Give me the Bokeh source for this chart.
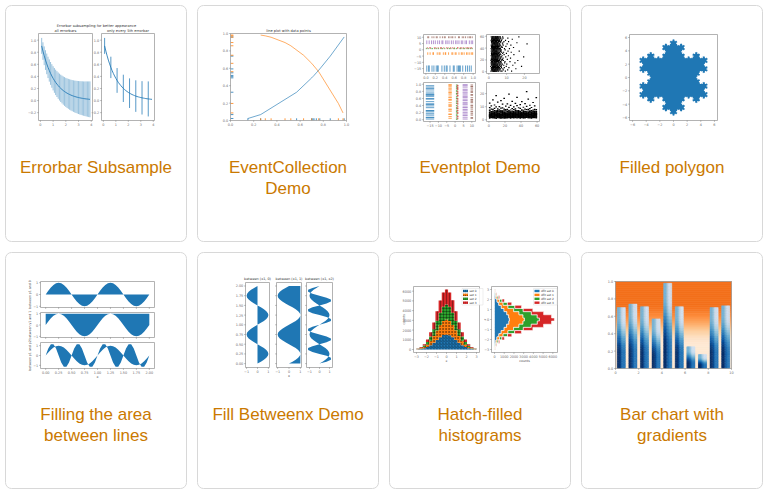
import numpy as np
from bokeh.plotting import figure
from bokeh.models import Range1d
from bokeh.embed import file_html
from bokeh.resources import INLINE
from bokeh.core.properties import value

# ======================= DATA =======================
card_titles = [["Errorbar Subsample"], ["EventCollection", "Demo"], ["Eventplot Demo"], ["Filled polygon"],
               ["Filling the area", "between lines"], ["Fill Betweenx Demo"], ["Hatch-filled", "histograms"],
               ["Bar chart with", "gradients"]]

# 1. Errorbar subsample
eb_x = [0.1, 0.2, 0.3, 0.4, 0.5, 0.6, 0.7, 0.8, 0.9, 1.0, 1.1, 1.2, 1.3, 1.4, 1.5, 1.6, 1.7, 1.8, 1.9, 2.0,
        2.1, 2.2, 2.3, 2.4, 2.5, 2.6, 2.7, 2.8, 2.9, 3.0, 3.1, 3.2, 3.3, 3.4, 3.5, 3.6, 3.7, 3.8, 3.9]
eb_y = [0.905, 0.819, 0.741, 0.670, 0.607, 0.549, 0.497, 0.449, 0.407, 0.368, 0.333, 0.301, 0.273, 0.247,
        0.223, 0.202, 0.183, 0.165, 0.150, 0.135, 0.122, 0.111, 0.100, 0.091, 0.082, 0.074, 0.067, 0.061,
        0.055, 0.050, 0.045, 0.041, 0.037, 0.033, 0.030, 0.027, 0.025, 0.022, 0.020]
eb_err = [0.132, 0.145, 0.155, 0.163, 0.171, 0.177, 0.184, 0.189, 0.195, 0.200, 0.205, 0.210, 0.214, 0.218,
          0.222, 0.226, 0.230, 0.234, 0.238, 0.241, 0.245, 0.248, 0.252, 0.255, 0.258, 0.261, 0.264, 0.267,
          0.270, 0.273, 0.276, 0.279, 0.282, 0.284, 0.287, 0.290, 0.292, 0.295, 0.297]
eb_title = "Errorbar subsampling for better appearance"
eb_subtitles = ["all errorbars", "only every 5th errorbar"]
eb_xticks = [0, 1, 2, 3, 4]
eb_xlabels = ["0", "1", "2", "3", "4"]
eb_yticks = [-0.2, 0.0, 0.2, 0.4, 0.6, 0.8, 1.0]
eb_ylabels = ["\u22120.2", "0.0", "0.2", "0.4", "0.6", "0.8", "1.0"]

# 2. EventCollection
ec_x1 = [0.15, 0.26, 0.57, 0.70, 0.71, 0.72, 0.74, 0.77, 0.86, 0.98]
ec_y1 = [0.023, 0.068, 0.325, 0.490, 0.504, 0.518, 0.548, 0.593, 0.740, 0.960]
ec_x2 = [0.26, 0.30, 0.35, 0.47, 0.52, 0.63, 0.70, 0.76, 0.93, 0.97]
ec_y2 = [0.982, 0.973, 0.957, 0.896, 0.859, 0.750, 0.657, 0.561, 0.196, 0.087]
ec_title = "line plot with data points"
ec_ticks = [0.0, 0.2, 0.4, 0.6, 0.8, 1.0]
ec_labels = ["0.0", "0.2", "0.4", "0.6", "0.8", "1.0"]

# 3. Eventplot
ep_offsets = [-15, -3, 1, 1.5, 6, 10]
ep_lengths = [5, 2, 1, 1, 3, 1.5]
ep_rows = [
    [0.02, 0.06, 0.07, 0.13, 0.17, 0.22, 0.25, 0.26, 0.34, 0.39, 0.43, 0.45, 0.51, 0.58, 0.60, 0.66, 0.69, 0.71, 0.73, 0.78, 0.84, 0.88, 0.92, 0.96],
    [0.04, 0.09, 0.15, 0.16, 0.24, 0.28, 0.30, 0.37, 0.41, 0.42, 0.48, 0.55, 0.57, 0.62, 0.64, 0.70, 0.75, 0.77, 0.81, 0.86, 0.89, 0.93, 0.97, 0.99],
    [0.01, 0.05, 0.11, 0.14, 0.19, 0.23, 0.27, 0.32, 0.35, 0.40, 0.46, 0.50, 0.53, 0.59, 0.61, 0.65, 0.72, 0.74, 0.79, 0.82, 0.87, 0.90, 0.94, 0.98],
    [0.03, 0.08, 0.10, 0.18, 0.21, 0.26, 0.31, 0.33, 0.38, 0.44, 0.47, 0.52, 0.56, 0.60, 0.67, 0.68, 0.73, 0.76, 0.80, 0.85, 0.88, 0.91, 0.95, 0.97],
    [0.02, 0.07, 0.12, 0.16, 0.20, 0.25, 0.29, 0.34, 0.36, 0.42, 0.45, 0.49, 0.54, 0.58, 0.63, 0.66, 0.70, 0.75, 0.78, 0.83, 0.86, 0.92, 0.96, 0.99],
    [0.04, 0.06, 0.13, 0.17, 0.22, 0.24, 0.30, 0.35, 0.39, 0.41, 0.48, 0.51, 0.55, 0.57, 0.62, 0.69, 0.71, 0.77, 0.80, 0.84, 0.89, 0.93, 0.94, 0.98],
]
ep_gamma = [
    [3.2, 5.1, 2.4, 6.8, 1.9, 4.4, 3.7, 9.3, 2.8, 5.6, 4.1, 1.2, 7.4, 3.3, 2.6, 12.8],
    [4.6, 2.1, 3.9, 5.8, 1.6, 6.3, 2.9, 4.8, 8.1, 3.4, 1.8, 5.2, 2.3, 10.6, 4.0, 3.1],
    [2.7, 6.1, 4.3, 1.4, 3.6, 7.9, 5.0, 2.2, 4.7, 3.0, 6.6, 1.9, 15.2, 3.8, 5.4, 2.5],
    [5.3, 3.5, 1.7, 4.9, 2.6, 8.7, 3.2, 6.0, 4.2, 2.0, 11.3, 3.9, 5.7, 1.5, 4.5, 7.1],
    [3.8, 2.3, 6.4, 4.0, 1.1, 5.5, 3.1, 9.8, 2.7, 4.6, 6.9, 3.6, 2.1, 5.0, 18.4, 3.3],
    [4.4, 1.9, 3.0, 7.2, 5.1, 2.5, 4.8, 3.4, 6.2, 1.6, 3.9, 8.4, 2.8, 5.9, 4.1, 13.5],
    [2.2, 4.9, 6.7, 3.3, 1.8, 5.2, 4.0, 2.9, 7.6, 3.7, 1.4, 10.1, 4.5, 2.6, 6.0, 3.1],
    [5.8, 3.0, 2.4, 4.6, 8.9, 1.7, 3.5, 6.3, 2.1, 4.2, 5.4, 3.8, 14.7, 2.9, 1.3, 7.0],
    [3.6, 6.5, 1.5, 4.1, 2.8, 5.7, 9.1, 3.2, 4.9, 2.0, 6.8, 3.4, 1.9, 5.3, 11.9, 4.3],
    [4.7, 2.6, 5.0, 3.1, 7.3, 1.2, 4.4, 2.3, 6.1, 3.9, 8.2, 5.5, 2.7, 3.6, 1.8, 16.3],
    [2.9, 4.2, 3.7, 6.9, 1.6, 5.1, 2.4, 4.8, 3.3, 10.4, 2.0, 5.9, 4.5, 7.7, 3.0, 1.4],
    [6.2, 3.4, 1.9, 4.6, 2.7, 8.0, 3.9, 5.3, 2.2, 4.1, 6.6, 1.5, 3.5, 12.2, 5.0, 2.8],
    [3.1, 5.6, 4.3, 2.5, 7.1, 3.8, 1.7, 4.9, 9.5, 2.9, 5.2, 3.6, 6.4, 2.1, 4.0, 19.6],
    [4.9, 2.0, 6.0, 3.5, 1.3, 4.7, 5.8, 2.6, 3.2, 7.5, 4.4, 2.3, 11.0, 3.7, 5.5, 1.8],
    [2.4, 3.9, 5.2, 1.8, 4.5, 6.7, 3.0, 8.6, 2.7, 4.1, 3.3, 5.9, 1.6, 14.1, 4.8, 2.2],
    [5.5, 4.1, 2.9, 3.6, 6.3, 1.9, 4.7, 3.2, 7.8, 2.4, 5.1, 9.9, 3.8, 1.5, 4.3, 2.6],
    [3.3, 1.6, 4.8, 5.9, 2.5, 3.7, 8.3, 4.2, 1.9, 6.1, 2.8, 4.6, 3.1, 12.6, 5.4, 7.2],
    [4.2, 6.8, 3.0, 2.1, 5.0, 4.5, 1.4, 3.8, 6.6, 2.9, 10.8, 3.5, 5.7, 2.3, 4.1, 17.1],
    [2.6, 3.5, 5.6, 4.0, 1.7, 7.0, 3.3, 2.4, 4.9, 5.8, 3.0, 1.8, 6.4, 4.4, 9.2, 2.7],
    [5.1, 2.8, 4.4, 1.3, 3.9, 6.0, 2.2, 5.3, 3.6, 8.8, 4.7, 2.5, 3.2, 11.6, 1.9, 6.5],
    [3.9, 4.6, 2.3, 5.7, 3.1, 1.6, 6.9, 4.0, 2.7, 5.2, 3.4, 7.6, 4.8, 2.0, 13.9, 3.7],
    [4.5, 3.2, 6.2, 2.6, 5.4, 3.8, 1.5, 4.9, 7.3, 2.1, 4.3, 5.6, 3.0, 9.6, 2.4, 1.7],
    [2.1, 5.3, 3.6, 4.7, 1.9, 6.5, 4.1, 3.3, 2.5, 8.1, 5.0, 3.9, 1.4, 4.6, 12.4, 6.0],
    [6.0, 2.7, 4.0, 3.4, 5.1, 2.2, 7.7, 1.8, 4.4, 3.1, 5.8, 2.9, 10.3, 4.8, 3.6, 21.5],
    [3.4, 4.8, 1.7, 5.5, 2.9, 4.2, 3.7, 6.6, 2.3, 5.0, 1.6, 4.5, 7.9, 3.2, 2.6, 15.8],
    [4.1, 2.5, 5.9, 3.0, 6.8, 1.5, 4.6, 3.5, 2.0, 5.4, 8.5, 3.8, 4.3, 2.2, 11.1, 6.3],
    [2.8, 6.1, 3.3, 4.9, 2.1, 5.6, 3.9, 1.9, 7.1, 4.4, 2.7, 5.2, 3.5, 9.4, 1.3, 4.0],
    [5.2, 3.7, 2.6, 4.3, 7.4, 3.1, 1.8, 5.8, 4.6, 2.4, 6.2, 3.3, 13.2, 4.9, 2.9, 1.6],
    [3.5, 4.4, 6.3, 2.2, 3.8, 5.1, 2.7, 4.7, 1.6, 8.0, 3.4, 6.7, 2.0, 5.5, 10.7, 4.2],
    [4.8, 2.3, 3.6, 5.3, 1.4, 4.0, 6.5, 3.0, 5.9, 2.8, 4.5, 7.8, 3.9, 2.1, 16.9, 5.0],
]
ep_unit_ticks = [0.0, 0.2, 0.4, 0.6, 0.8, 1.0]
ep_unit_labels = ["0.0", "0.2", "0.4", "0.6", "0.8", "1.0"]
ep_off_ticks = [-15, -10, -5, 0, 5, 10]
ep_off_labels = ["\u221215", "\u221210", "\u22125", "0", "5", "10"]
ep_row_ticks = [0, 20, 40, 60]
ep_row_labels = ["0", "20", "40", "60"]
ep_val_ticks = [0, 10, 20]
ep_val_labels = ["0", "10", "20"]

# 4. Koch snowflake (order / scale of the fractal)
koch_order = 5
koch_scale = 10
koch_ticks = [-6, -4, -2, 0, 2, 4, 6]
koch_labels = ["\u22126", "\u22124", "\u22122", "0", "2", "4", "6"]

# 5/6. fill between / betweenx
fb_t = [0.0, 0.05, 0.1, 0.15, 0.2, 0.25, 0.3, 0.35, 0.4, 0.45, 0.5, 0.55, 0.6, 0.65, 0.7, 0.75, 0.8, 0.85, 0.9, 0.95,
        1.0, 1.05, 1.1, 1.15, 1.2, 1.25, 1.3, 1.35, 1.4, 1.45, 1.5, 1.55, 1.6, 1.65, 1.7, 1.75, 1.8, 1.85, 1.9, 1.95, 2.0]
fb_s1 = [0.0, 0.309, 0.588, 0.809, 0.951, 1.0, 0.951, 0.809, 0.588, 0.309, 0.0, -0.309, -0.588, -0.809, -0.951, -1.0,
         -0.951, -0.809, -0.588, -0.309, 0.0, 0.309, 0.588, 0.809, 0.951, 1.0, 0.951, 0.809, 0.588, 0.309, 0.0,
         -0.309, -0.588, -0.809, -0.951, -1.0, -0.951, -0.809, -0.588, -0.309, 0.0]
fb_s2 = [0.0, 0.705, 1.141, 1.141, 0.705, 0.0, -0.705, -1.141, -1.141, -0.705, 0.0, 0.705, 1.141, 1.141, 0.705, 0.0,
         -0.705, -1.141, -1.141, -0.705, 0.0, 0.705, 1.141, 1.141, 0.705, 0.0, -0.705, -1.141, -1.141, -0.705, 0.0,
         0.705, 1.141, 1.141, 0.705, 0.0, -0.705, -1.141, -1.141, -0.705, 0.0]
fb_ylabels_txt = ["between y1 and 0", "between y1 and 1", "between y1 and y2"]
fb_xticks = [0.0, 0.25, 0.5, 0.75, 1.0, 1.25, 1.5, 1.75, 2.0]
fb_xlabels = ["0.00", "0.25", "0.50", "0.75", "1.00", "1.25", "1.50", "1.75", "2.00"]
fb_yticks = [-1, 0, 1]
fb_ylabels = ["\u22121", "0", "1"]
fbx_titles = ["between (x1, 0)", "between (x1, 1)", "between (x1, x2)"]
fbx_yticks = [0.0, 0.25, 0.5, 0.75, 1.0, 1.25, 1.5, 1.75, 2.0]

# 7. hatch-filled histograms
hh_edges = [-3.0, -2.684, -2.368, -2.053, -1.737, -1.421, -1.105, -0.789, -0.474, -0.158,
            0.158, 0.474, 0.789, 1.105, 1.421, 1.737, 2.053, 2.368, 2.684, 3.0]
hh_sets = [
    [25, 60, 140, 250, 450, 690, 990, 1250, 1480, 1530, 1460, 1270, 980, 700, 440, 260, 130, 65, 30],
    [30, 66, 128, 262, 438, 700, 975, 1272, 1455, 1550, 1475, 1255, 995, 688, 450, 250, 138, 60, 26],
    [28, 62, 136, 248, 452, 685, 1000, 1258, 1470, 1540, 1462, 1268, 978, 705, 436, 262, 128, 68, 24],
    [26, 64, 131, 258, 440, 698, 982, 1266, 1462, 1545, 1472, 1260, 990, 692, 448, 254, 136, 62, 28],
]
hh_labels_left = ["set 0", "set 1", "set 2", "set 3"]
hh_labels_right = ["dflt set 0", "dflt set 1", "dflt set 2", "dflt set 3"]
hh_hatches = ["/", "o", "+", "|"]
hh_x_ticks = [-3, -2, -1, 0, 1, 2, 3]
hh_x_labels = ["\u22123", "\u22122", "\u22121", "0", "1", "2", "3"]
hh_c_ticks = [0, 1000, 2000, 3000, 4000, 5000, 6000]
hh_c_labels = ["0", "1000", "2000", "3000", "4000", "5000", "6000"]

# 8. bar chart with gradients
gb_left = [0.15, 1.15, 2.15, 3.15, 4.15, 5.15, 6.15, 7.15, 8.15, 9.15]
gb_height = [0.70, 0.74, 0.71, 0.57, 0.98, 0.71, 0.25, 0.16, 0.70, 0.72]
gb_width = 0.7
gb_xticks = [0, 2, 4, 6, 8, 10]
gb_xlabels = ["0", "2", "4", "6", "8", "10"]
gb_yticks = [0.0, 0.2, 0.4, 0.6, 0.8, 1.0]
gb_ylabels = ["0.0", "0.2", "0.4", "0.6", "0.8", "1.0"]

# ======================= STYLE =======================
W, H = 767, 493
CARD_X = [5, 197, 389, 581]
CARD_Y = [5, 252]
CARD_W, CARD_H = 181, 236
TITLE_COLOR = "#ca7900"
C = ["#1f77b4", "#ff7f0e", "#2ca02c", "#d62728", "#9467bd", "#8c564b"]
FRAME = "#a0a0a0"
TICKC = "#6a6a6a"
FS_T = "3.4px"
ORANGES = ["#fff5eb", "#fee6ce", "#fdd0a2", "#fdae6b", "#fd8d3c", "#f16913", "#d94801", "#a63603", "#7f2704"]
BLUES = ["#f7fbff", "#deebf7", "#c6dbef", "#9ecae1", "#6baed6", "#4292c6", "#2171b5", "#08519c", "#08306b"]


def cmap(stops, t):
    t = min(max(t, 0.0), 1.0) * (len(stops) - 1)
    i = min(int(t), len(stops) - 2)
    f = t - i
    a = [int(stops[i][k:k + 2], 16) for k in (1, 3, 5)]
    b = [int(stops[i + 1][k:k + 2], 16) for k in (1, 3, 5)]
    return "#%02x%02x%02x" % tuple(int(round(a[j] + (b[j] - a[j]) * f)) for j in range(3))


p = figure(width=W, height=H, x_range=Range1d(0, W), y_range=Range1d(H, 0),
           output_backend="svg", toolbar_location=None, min_border=0)
p.axis.visible = False
p.grid.visible = False
p.outline_line_color = None
p.background_fill_color = "white"
p.border_fill_color = "white"

texts = {}


def T(x, y, s, size=FS_T, color=TICKC, align="center", baseline="middle", angle=0.0, font="DejaVu Sans"):
    xs = np.atleast_1d(np.asarray(x, float))
    ys = np.atleast_1d(np.asarray(y, float))
    ss = [s] if isinstance(s, str) else list(s)
    n = max(len(xs), len(ys), len(ss))
    xs = np.broadcast_to(xs, (n,)) if len(xs) == 1 else xs
    ys = np.broadcast_to(ys, (n,)) if len(ys) == 1 else ys
    ss = ss * n if len(ss) == 1 else ss
    d = texts.setdefault((size, color, align, baseline, angle, font), {"x": [], "y": [], "t": []})
    d["x"] += list(xs)
    d["y"] += list(ys)
    d["t"] += list(ss)


class Ax:
    def __init__(self, box, xr, yr):
        self.l, self.t, self.r, self.b = box
        self.xr, self.yr = xr, yr

    def X(self, v):
        v = np.asarray(v, float)
        return self.l + (v - self.xr[0]) / (self.xr[1] - self.xr[0]) * (self.r - self.l)

    def Y(self, v):
        v = np.asarray(v, float)
        return self.b - (v - self.yr[0]) / (self.yr[1] - self.yr[0]) * (self.b - self.t)


def frame(ax, xt=(), xl=(), yt=(), yl=(), tick=1.3):
    p.quad(left=[ax.l], right=[ax.r], top=[ax.t], bottom=[ax.b], fill_color=None,
           line_color=FRAME, line_width=0.8)
    if len(xt):
        tx = ax.X(xt)
        n = len(tx)
        p.segment(x0=tx, y0=[ax.b] * n, x1=tx, y1=[ax.b + tick] * n, line_color=TICKC, line_width=0.5)
        T(tx, ax.b + tick + 2.2, xl)
    if len(yt):
        ty = ax.Y(yt)
        n = len(ty)
        p.segment(x0=[ax.l - tick] * n, y0=ty, x1=[ax.l] * n, y1=ty, line_color=TICKC, line_width=0.5)
        T(ax.l - tick - 1.0, ty, yl, align="right")


# ---------------- cards ----------------
cl = [cx for cy in CARD_Y for cx in CARD_X]
ct = [cy for cy in CARD_Y for cx in CARD_X]
p.quad(left=cl, right=[v + CARD_W for v in cl], top=ct, bottom=[v + CARD_H for v in ct],
       fill_color="white", line_color="#d8d8d8", line_width=1, border_radius=6)
for k, lines in enumerate(card_titles):
    cx = cl[k] + CARD_W / 2
    for j, s in enumerate(lines):
        T(cx, ct[k] + 162 + 21 * j, s, size="17px", color=TITLE_COLOR, font="Liberation Sans")

# ---------------- 1. errorbar subsample ----------------
ebx = np.array(eb_x)
eby = np.array(eb_y)
ebe = np.array(eb_err)
for i, box in enumerate([(38, 33, 92, 120), (101, 33, 154, 120)]):
    ax = Ax(box, (-0.15, 4.1), (-0.33, 1.11))
    sel = slice(None) if i == 0 else slice(0, None, 5)
    xs = ax.X(ebx[sel])
    p.segment(x0=xs, y0=ax.Y(eby[sel] - ebe[sel]), x1=xs, y1=ax.Y(eby[sel] + ebe[sel]),
              line_color=C[0], line_alpha=0.45 if i == 0 else 0.75, line_width=1.0)
    p.line(ax.X(ebx), ax.Y(eby), line_color=C[0], line_width=1.0, line_alpha=0.85)
    frame(ax, eb_xticks, eb_xlabels, eb_yticks, eb_ylabels)
    T((ax.l + ax.r) / 2, 30.3, eb_subtitles[i], size="3.6px", color="#333")
T(96, 25, eb_title, size="3.6px", color="#333")

# ---------------- 2. event collection ----------------
ax = Ax((230, 33, 346, 120), (0, 1), (0, 1))
p.line(ax.X(ec_x1), ax.Y(ec_y1), line_color=C[0], line_width=0.8, line_alpha=0.8)
p.line(ax.X(ec_x2), ax.Y(ec_y2), line_color=C[1], line_width=0.8, line_alpha=0.8)
for xs, ys, col in [(ec_x1, ec_y1, C[0]), (ec_x2, ec_y2, C[1])]:
    n = len(xs)
    p.segment(x0=ax.X(xs), y0=[ax.b] * n, x1=ax.X(xs), y1=[ax.b - 2.2] * n, line_color=col, line_width=0.8)
    p.segment(x0=[ax.l] * n, y0=ax.Y(ys), x1=[ax.l + 2.9] * n, y1=ax.Y(ys), line_color=col, line_width=0.8)
frame(ax, ec_ticks, ec_labels, ec_ticks, ec_labels)
T(288, 30.3, ec_title, size="3.6px", color="#333")

# ---------------- 3. eventplot ----------------
offr = (-18.9, 12.2)
ax = Ax((423, 34, 475, 73), (-0.05, 1.05), offr)
for row, off, ln, col in zip(ep_rows, ep_offsets, ep_lengths, C):
    n = len(row)
    p.segment(x0=ax.X(row), y0=[float(ax.Y(off - ln / 2))] * n, x1=ax.X(row), y1=[float(ax.Y(off + ln / 2))] * n,
              line_color=col, line_width=0.7)
frame(ax, ep_unit_ticks, ep_unit_labels, ep_off_ticks, ep_off_labels)
ax = Ax((423, 82, 475, 121), offr, (-0.05, 1.05))
for row, off, ln, col in zip(ep_rows, ep_offsets, ep_lengths, C):
    n = len(row)
    p.segment(x0=[float(ax.X(off - ln / 2))] * n, y0=ax.Y(row), x1=[float(ax.X(off + ln / 2))] * n, y1=ax.Y(row),
              line_color=col, line_width=0.7)
frame(ax, ep_off_ticks, ep_off_labels, ep_unit_ticks, ep_unit_labels)

rows_n = len(ep_gamma)
step = 60.0 / rows_n
valr = (-1.3, 28.5)
axh = Ax((486, 34, 539, 73), valr, (-3, 63))
axv = Ax((486, 82, 539, 121), (-3, 63), valr)
gx, gy0, gy1 = [], [], []
for j, row in enumerate(ep_gamma):
    off = step * (j + 0.5)
    gx += row
    gy0 += [off - step / 2] * len(row)
    gy1 += [off + step / 2] * len(row)
p.segment(x0=axh.X(gx), y0=axh.Y(gy0), x1=axh.X(gx), y1=axh.Y(gy1), line_color="black", line_width=1.2)
p.segment(x0=axv.X(gy0), y0=axv.Y(gx), x1=axv.X(gy1), y1=axv.Y(gx), line_color="black", line_width=1.2)
frame(axh, ep_val_ticks, ep_val_labels, ep_row_ticks, ep_row_labels)
frame(axv, ep_row_ticks, ep_row_labels, ep_val_ticks, ep_val_labels)


# ---------------- 4. filled polygon ----------------
def koch(order, scale):
    if order == 0:
        ang = np.deg2rad(np.array([0, 120, 240]) + 90)
        return scale / np.sqrt(3) * np.exp(1j * ang)
    zr = 0.5 - 0.5j * np.sqrt(3) / 3
    p1 = koch(order - 1, scale)
    dp = np.roll(p1, -1) - p1
    out = np.empty(len(p1) * 4, dtype=complex)
    out[::4] = p1
    out[1::4] = p1 + dp / 3
    out[2::4] = p1 + dp * zr
    out[3::4] = p1 + dp / 3 * 2
    return out


kz = koch(koch_order, koch_scale)
ax = Ax((629, 34, 717, 120), (-6.45, 6.45), (-6.45, 6.45))
p.patch(ax.X(kz.real), ax.Y(kz.imag), fill_color=C[0], line_color=None)
frame(ax, koch_ticks, koch_labels, koch_ticks, koch_labels)

# ---------------- 5. filling between lines ----------------
fbt = np.array(fb_t)
s1 = np.array(fb_s1)
s2 = np.array(fb_s2)
boxes5 = [(40, 281, 154, 307), (40, 312, 154, 337), (40, 342, 154, 368)]
others = [np.zeros_like(s1), np.ones_like(s1), s2]
yrs = [(-1.1, 1.1), (-1.1, 1.1), (-1.32, 1.32)]
for i in range(3):
    ax = Ax(boxes5[i], (-0.1, 2.1), yrs[i])
    p.varea(x=ax.X(fbt), y1=ax.Y(s1), y2=ax.Y(others[i]), fill_color=C[0])
    if i == 2:
        frame(ax, fb_xticks, fb_xlabels, fb_yticks, fb_ylabels)
    else:
        frame(ax, fb_xticks, [""] * len(fb_xticks), fb_yticks, fb_ylabels)
    T(29, (ax.t + ax.b) / 2, fb_ylabels_txt[i], size="3.2px", angle=np.pi / 2, color="#444")
T(97, 376.5, "x", size="3.4px", color="#444")

# ---------------- 6. fill betweenx ----------------
boxes6 = [(245, 282, 269, 367), (276, 282, 301, 367), (306, 282, 332, 367)]
xrs = [(-1.1, 1.1), (-1.1, 1.1), (-1.3, 1.3)]
for i in range(3):
    ax = Ax(boxes6[i], xrs[i], (-0.1, 2.09))
    p.harea(y=ax.Y(fbt), x1=ax.X(s1), x2=ax.X(others[i]), fill_color=C[0])
    if i == 0:
        frame(ax, fb_yticks, fb_ylabels, fbx_yticks, fb_xlabels)
    else:
        frame(ax, fb_yticks, fb_ylabels, fbx_yticks, [""] * len(fbx_yticks))
    T((ax.l + ax.r) / 2, 278.5, fbx_titles[i], size="3.4px", color="#333")
T(288.5, 375.5, "x", size="3.4px", color="#444")

# ---------------- 7. hatch-filled histograms ----------------
edges = np.array(hh_edges)
cum = np.zeros(len(hh_sets[0]))
axL = Ax((413, 286, 479, 352), (-3.3, 3.3), (-308, 6480))
axR = Ax((491, 286, 557, 352), (-308, 6480), (-3.3, 3.3))
for k, cnt in enumerate(hh_sets):
    top = cum + np.array(cnt, float)
    ex = np.repeat(edges, 2)[1:-1]
    tv = np.repeat(top, 2)
    bv = np.repeat(cum, 2)
    px_e = np.concatenate([ex, ex[::-1]])
    pv = np.concatenate([tv, bv[::-1]])
    p.patch(axL.X(px_e), axL.Y(pv), fill_color=C[k], line_color=None,
            hatch_pattern=hh_hatches[k], hatch_color="black", hatch_alpha=0.55,
            hatch_scale=3.0, hatch_weight=0.6)
    p.patch(axR.X(pv), axR.Y(px_e), fill_color=C[k], line_color="white", line_width=0.6)
    cum = top
frame(axL, hh_x_ticks, hh_x_labels, hh_c_ticks, hh_c_labels)
frame(axR, hh_c_ticks, hh_c_labels, hh_x_ticks, hh_x_labels)
T(403.5, 319, "counts", size="3.2px", angle=np.pi / 2, color="#444")
T(446, 360, "x", size="3.2px", color="#444")
T(524, 360, "counts", size="3.2px", color="#444")
T(484.5, 319, "x", size="3.2px", angle=np.pi / 2, color="#444")
for axx, labs, lx in [(axL, hh_labels_left, 462.5), (axR, hh_labels_right, 534)]:
    wbox = 20 if axx is axL else 22.5
    p.quad(left=[lx - 1], right=[lx + wbox], top=[288], bottom=[304.5], fill_color="white",
           fill_alpha=0.8, line_color="#dddddd", line_width=0.5)
    for k in range(4):
        yy = 290.5 + k * 3.9
        p.quad(left=[lx], right=[lx + 5], top=[yy - 1.2], bottom=[yy + 1.2], fill_color=C[k], line_color=None,
               hatch_pattern=hh_hatches[k] if axx is axL else None, hatch_color="black", hatch_alpha=0.55,
               hatch_scale=2.0, hatch_weight=0.5)
        T(lx + 6.5, yy, labs[k], size="2.9px", align="left", color="#333")

# ---------------- 8. bar chart with gradients ----------------
ax = Ax((615, 281, 731, 368), (0, 10), (0, 1))


def ramp(u):
    u = min(max(u, 0.0), 1.0)
    return u * u * (3 - 2 * u)


NB = 44
bl, br, bt, bb, bc = [], [], [], [], []
for j in range(NB):
    h0, h1 = j / NB, (j + 1) / NB
    bl.append(ax.l)
    br.append(ax.r)
    bb.append(float(ax.Y(h0)))
    bt.append(float(ax.Y(h1)))
    bc.append(cmap(ORANGES, 0.1 + 0.5 * ramp(((h0 + h1) / 2 - 0.25) / 0.5)))
p.quad(left=bl, right=br, top=bt, bottom=bb, fill_color=bc, line_color=bc, line_width=0.7)

phi = 0.3 * np.pi / 2
cv, sv = np.cos(phi), np.sin(phi)
vmax = cv + sv
NR, NCOL = 26, 6
ql, qr, qt, qb, qc = [], [], [], [], []
for x0, hgt in zip(gb_left, gb_height):
    for r in range(NR):
        for c in range(NCOL):
            fx = (c + 0.5) / NCOL
            fy = (r + 0.5) / NR
            val = cv * ramp((fy - 0.25) / 0.6) + sv * ramp((fx - 0.25) / 0.5)
            t = 0.8 * val / vmax
            ql.append(float(ax.X(x0 + gb_width * c / NCOL)))
            qr.append(float(ax.X(x0 + gb_width * (c + 1) / NCOL)))
            qb.append(float(ax.Y(hgt * r / NR)))
            qt.append(float(ax.Y(hgt * (r + 1) / NR)))
            qc.append(cmap(BLUES, 1 - t))
p.quad(left=ql, right=qr, top=qt, bottom=qb, fill_color=qc, line_color=qc, line_width=0.5)
frame(ax, gb_xticks, gb_xlabels, gb_yticks, gb_ylabels)

# ---------------- texts ----------------
for (size, color, align, baseline, angle, font), d in texts.items():
    p.text(x=d["x"], y=d["y"], text=d["t"], text_font_size=size, text_color=color, text_align=align,
           text_baseline=baseline, angle=angle, text_font=value(font))

open("out.html", "w").write(file_html(p, INLINE))
